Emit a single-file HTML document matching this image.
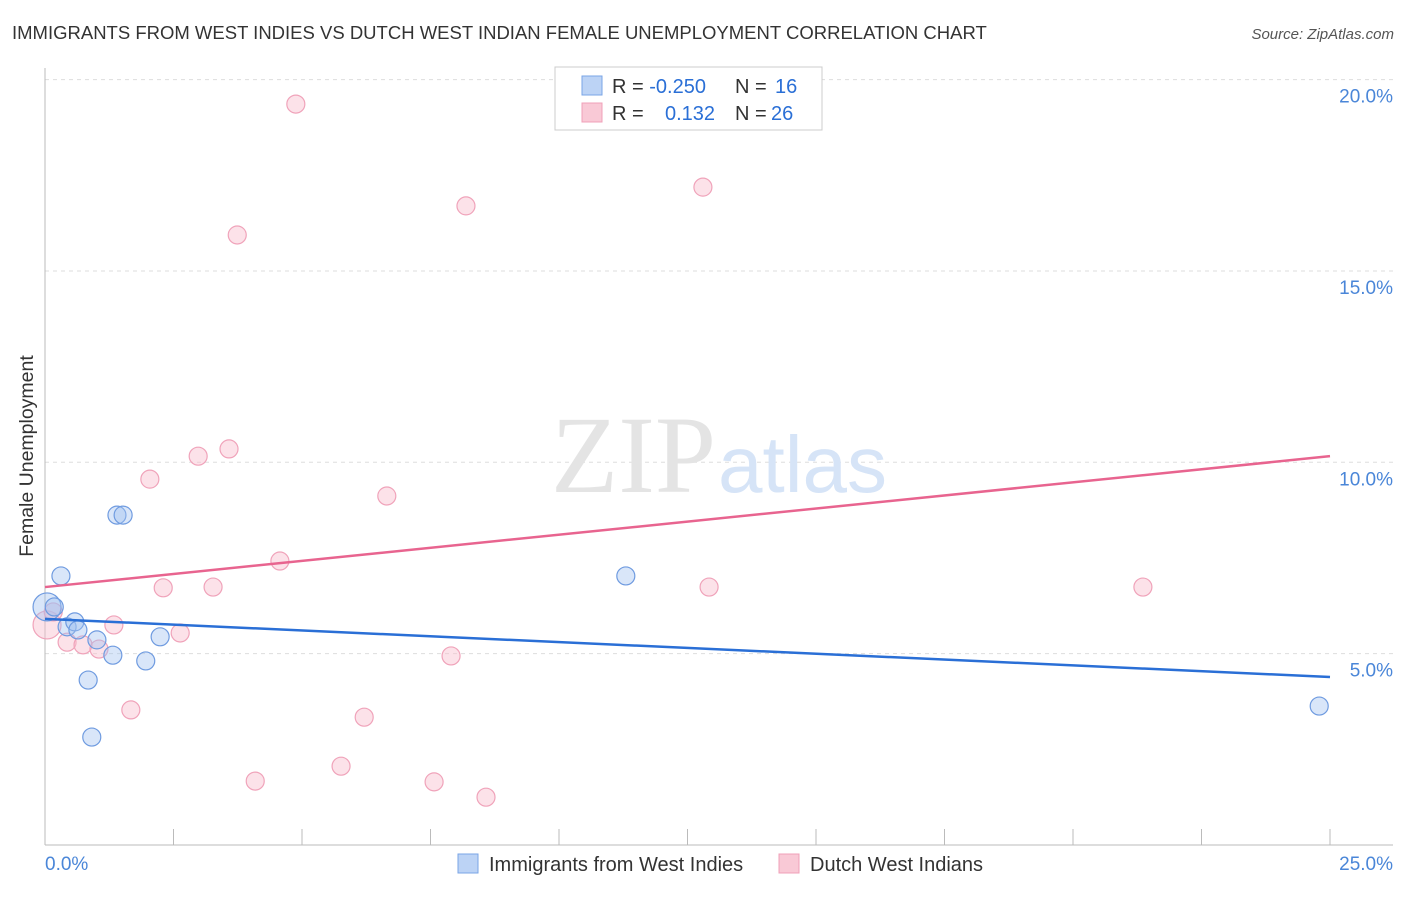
<!DOCTYPE html>
<html><head><meta charset="utf-8"><style>
body{margin:0;background:#fff;font-family:"Liberation Sans",sans-serif}
</style></head><body>
<svg width="1406" height="892" xmlns="http://www.w3.org/2000/svg" font-family="Liberation Sans, sans-serif">
<text x="12" y="39" font-size="18.5" fill="#333">IMMIGRANTS FROM WEST INDIES VS DUTCH WEST INDIAN FEMALE UNEMPLOYMENT CORRELATION CHART</text>
<text x="1394" y="39" font-size="15" fill="#555" text-anchor="end" font-style="italic">Source: ZipAtlas.com</text>
<text x="33" y="456" font-size="19.5" fill="#333" text-anchor="middle" transform="rotate(-90 33 456)">Female Unemployment</text>
<g id="grid"></g>
<text x="716" y="492" font-size="110" fill="#e4e4e4" text-anchor="end" font-family="Liberation Serif, serif">ZIP</text>
<text x="718" y="492" font-size="80" fill="#d6e4f7">atlas</text>
<g id="pts"></g>
<g id="lines"></g>
<g>
<rect x="555" y="67" width="267" height="63" fill="#fff" stroke="#ccc"/>
<rect x="582" y="76" width="20" height="19" fill="#bcd3f5" stroke="#7aa5e6"/>
<rect x="582" y="103" width="20" height="19" fill="#f9c9d6" stroke="#f0a0b8"/>
<text x="612" y="93" font-size="20" fill="#333">R = <tspan fill="#2a6fd6">-0.250</tspan><tspan x="735">N = </tspan><tspan fill="#2a6fd6" x="775">16</tspan></text>
<text x="612" y="120" font-size="20" fill="#333">R = <tspan fill="#2a6fd6" x="665">0.132</tspan><tspan x="735">N = </tspan><tspan fill="#2a6fd6" x="771">26</tspan></text>
</g>
<g>
<rect x="458" y="854" width="20" height="19" fill="#bcd3f5" stroke="#7aa5e6"/>
<text x="489" y="871" font-size="20" fill="#333">Immigrants from West Indies</text>
<rect x="779" y="854" width="20" height="19" fill="#f9c9d6" stroke="#f0a0b8"/>
<text x="810" y="871" font-size="20" fill="#333">Dutch West Indians</text>
</g>
</svg>
<script>
const blueX=[0.04,0.18,0.31,0.43,0.58,0.64,1.01,1.32,0.84,0.91,1.40,1.52,1.96,2.24,11.30,24.79];
const blueY=[6.22,6.22,7.03,5.70,5.83,5.62,5.36,4.96,4.31,2.82,8.62,8.62,4.81,5.44,7.03,3.63];
const pinkX=[0.04,0.16,0.43,0.74,1.05,1.34,1.67,2.04,2.30,2.63,2.98,3.27,3.58,3.74,4.09,4.57,4.88,5.76,6.21,6.65,7.57,7.90,8.19,8.58,12.80,12.92,21.36];
const pinkY=[5.75,6.09,5.30,5.23,5.12,5.75,3.53,9.56,6.72,5.54,10.16,6.74,10.35,15.94,1.67,7.42,19.36,2.06,3.34,9.12,1.65,4.94,16.70,1.25,17.19,6.74,6.74];
const blueTrend=[5.91,4.39];
const pinkTrend=[6.74,10.16];
const yTicks=[5,10,15,20];
const xTickLabels=["0.0%","25.0%"];
const NS="http://www.w3.org/2000/svg";
const sx=v=>45+v*51.4, sy=v=>845-v*38.27;
function mk(t,a,p){const e=document.createElementNS(NS,t);for(const k in a)e.setAttribute(k,a[k]);p.appendChild(e);return e;}
const g=document.getElementById('grid');
yTicks.forEach(t=>{
 const l=mk('line',{x1:45,x2:1393,y1:sy(t),y2:sy(t),stroke:'#ddd','stroke-dasharray':'4,4'},g);
 
 
 const tx=mk('text',{x:1393,y:sy(t)+23,'font-size':19,fill:'#4a86d8','text-anchor':'end'},g);
 tx.textContent=t.toFixed(1)+'%';
 
 
});
mk('line',{x1:45,x2:45,y1:68,y2:845,stroke:'#bbb'},g);
mk('line',{x1:45,x2:1393,y1:845,y2:845,stroke:'#bbb'},g);
for(let i=1;i<=10;i++){const x=sx(i*2.5);const tk=mk('line',{x1:x,x2:x,y1:829,y2:845,stroke:'#bbb'},g);
 
 }
const t0=mk('text',{x:45,y:870,'font-size':19,fill:'#4a86d8'},g);t0.textContent=xTickLabels[0];


const t1=mk('text',{x:1393,y:870,'font-size':19,fill:'#4a86d8','text-anchor':'end'},g);t1.textContent=xTickLabels[1];


const p=document.getElementById('pts');
pinkX.forEach((x,i)=>{const c=mk('circle',{cx:sx(x),cy:sy(pinkY[i]),r:i==0?14:9,fill:'rgba(248,190,206,0.45)',stroke:'#f0a3ba','stroke-width':1.2},p);
 
 });
blueX.forEach((x,i)=>{const c=mk('circle',{cx:sx(x),cy:sy(blueY[i]),r:i==0?14:9,fill:'rgba(160,192,240,0.4)',stroke:'#6f9be0','stroke-width':1.2},p);
 
 });
const L=document.getElementById('lines');
const bl=mk('line',{x1:sx(0),x2:sx(25),y1:sy(blueTrend[0]),y2:sy(blueTrend[1]),stroke:'#2a6fd6','stroke-width':2.5},L);


const pl=mk('line',{x1:sx(0),x2:sx(25),y1:sy(pinkTrend[0]),y2:sy(pinkTrend[1]),stroke:'#e8648f','stroke-width':2.5},L);


</script>
</body></html>
